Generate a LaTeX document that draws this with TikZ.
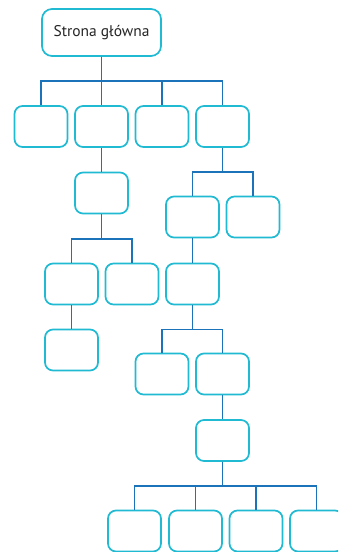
\documentclass[tikz,border=0pt]{standalone}
\usepackage{fontspec}
\setmainfont{PT Sans}
\definecolor{boxc}{RGB}{32,186,210}
\definecolor{linec}{RGB}{27,115,185}
\begin{document}
\begin{tikzpicture}[x=1pt,y=-1pt,
  box/.style={draw=boxc,line width=1.7pt,rounded corners=8pt,minimum width=53pt,minimum height=41pt,inner sep=0pt,fill=white},
  topbox/.style={box,rounded corners=10pt,minimum width=119pt,minimum height=47pt,font=\fontsize{15.5}{18}\selectfont,text=black!85},
  conn/.style={draw=linec,line width=1.6pt}]
\useasboundingbox (0,0) rectangle (338,552);
\clip (0,0) rectangle (338,552);
\node[topbox] (top) at (101.5,32.5) {Strona główna};
\node[box] (a1) at (41,126.5) {};
\node[box] (a2) at (101.5,126.5) {};
\node[box] (a3) at (162,126.5) {};
\node[box] (a4) at (222.5,126.5) {};
\node[box] (b) at (101.5,193) {};
\node[box] (d1) at (192.5,217) {};
\node[box] (d2) at (253,217) {};
\node[box] (e1) at (71.5,284) {};
\node[box] (e2) at (132,284) {};
\node[box] (f) at (192.5,284) {};
\node[box] (g) at (71.5,350) {};
\node[box] (h1) at (162,374) {};
\node[box] (h2) at (222.5,374) {};
\node[box] (i) at (222.5,440.5) {};
\node[box] (j1) at (134.5,531) {};
\node[box] (j2) at (195.5,531) {};
\node[box] (j3) at (256,531) {};
\node[box] (j4) at (316.5,531) {};
\foreach \c in {a1,a2,a3,a4} \draw[conn] (top.south) -- ++(0,24) -| (\c.north);
\draw[conn] (a2.south) -- (b.north);
\foreach \c in {d1,d2} \draw[conn] (a4.south) -- ++(0,24) -| (\c.north);
\foreach \c in {e1,e2} \draw[conn] (b.south) -- ++(0,24.5) -| (\c.north);
\draw[conn] (d1.south) -- (f.north);
\draw[conn] (e1.south) -- (g.north);
\foreach \c in {h1,h2} \draw[conn] (f.south) -- ++(0,24) -| (\c.north);
\draw[conn] (h2.south) -- (i.north);
\foreach \c in {j1,j2,j3,j4} \draw[conn] (i.south) -- ++(0,24) -| (\c.north);
\end{tikzpicture}
\end{document}
